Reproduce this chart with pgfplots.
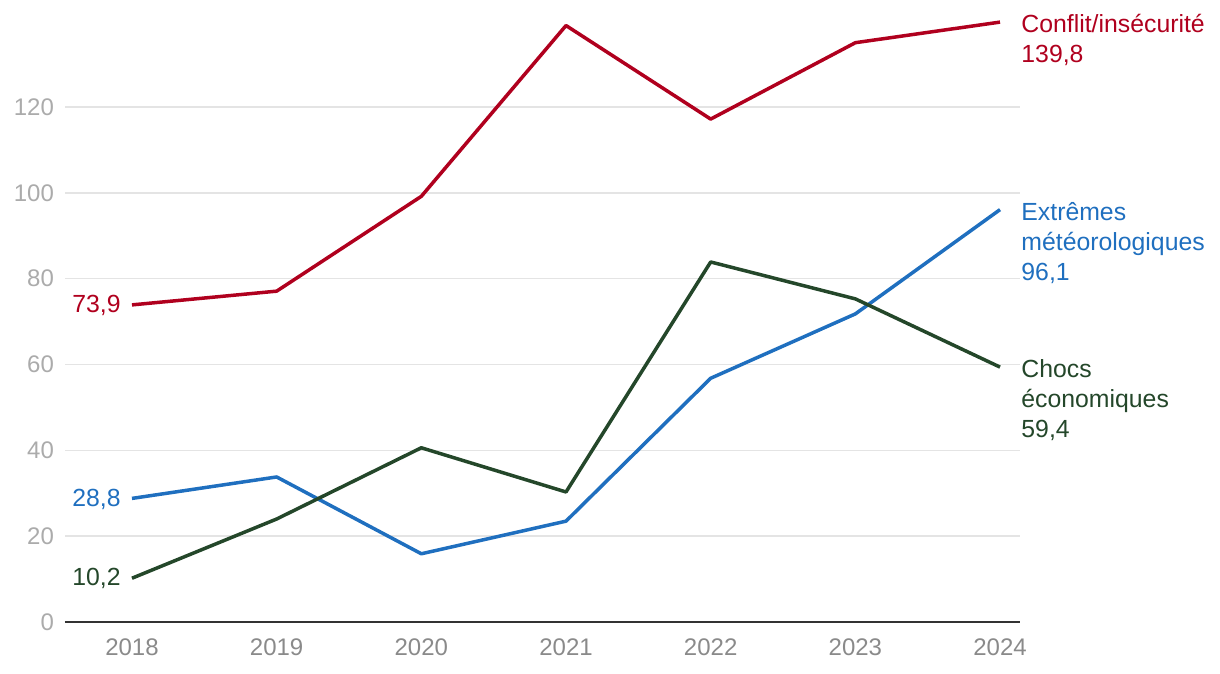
\documentclass[border=0pt]{standalone}
\usepackage{pgfplots}
\pgfplotsset{compat=1.18}
\usepackage{fontspec}
\setmainfont{Liberation Sans}
\definecolor{cred}{HTML}{B0001E}
\definecolor{cblue}{HTML}{1F6FBF}
\definecolor{cgreen}{HTML}{24472A}
\definecolor{gridc}{HTML}{E4E4E4}
\definecolor{ytc}{HTML}{ABABAB}
\definecolor{xtc}{HTML}{8A8A8A}
\begin{document}
\begin{tikzpicture}
\begin{axis}[
  scale only axis, width=477.5pt, height=311.1pt,
  xmin=2017.537, xmax=2024.138, ymin=0, ymax=145,
  axis x line=bottom, axis y line=left,
  x axis line style={-, draw=black!80, line width=1pt},
  y axis line style={draw=none},
  xtick={2018,2019,2020,2021,2022,2023,2024},
  xticklabels={2018,2019,2020,2021,2022,2023,2024},
  ytick={0,20,40,60,80,100,120},
  major tick length=0pt,
  ymajorgrids, grid style={gridc, line width=0.75pt},
  /pgf/number format/assume math mode=true,
  tick label style={font=\fontsize{12}{14}\selectfont},
  yticklabel style={color=ytc, anchor=east, xshift=-2pt},
  xticklabel style={color=xtc, anchor=north, yshift=-5pt},
  clip=false,
  every axis plot/.append style={line width=1.75pt, line join=round, no markers},
]
\addplot[cred] coordinates {(2018,73.9) (2019,77.1) (2020,99.2) (2021,139.0) (2022,117.2) (2023,135.0) (2024,139.8)};
\addplot[cblue] coordinates {(2018,28.8) (2019,33.8) (2020,15.9) (2021,23.5) (2022,56.8) (2023,71.8) (2024,96.1)};
\addplot[cgreen] coordinates {(2018,10.2) (2019,24.0) (2020,40.6) (2021,30.3) (2022,83.9) (2023,75.3) (2024,59.4)};

\begin{scope}[every node/.style={font=\fontsize{12.4}{14}\selectfont, inner sep=0pt}]
\node[anchor=base east, text=cred, xshift=-5.5pt, yshift=-3.8pt] at (axis cs:2018,73.9) {73,9};
\node[anchor=base east, text=cblue, xshift=-5.5pt, yshift=-3.8pt] at (axis cs:2018,28.8) {28,8};
\node[anchor=base east, text=cgreen, xshift=-5.5pt, yshift=-3.8pt] at (axis cs:2018,10.2) {10,2};

\node[anchor=base west, text=cred, xshift=10.5pt, yshift=-5.2pt] at (axis cs:2024,139.8) {Conflit/insécurité};
\node[anchor=base west, text=cred, xshift=10.5pt, yshift=-20.2pt] at (axis cs:2024,139.8) {139,8};

\node[anchor=base west, text=cblue, xshift=10.5pt, yshift=-5.2pt] at (axis cs:2024,96.1) {Extrêmes};
\node[anchor=base west, text=cblue, xshift=10.5pt, yshift=-20.2pt] at (axis cs:2024,96.1) {météorologiques};
\node[anchor=base west, text=cblue, xshift=10.5pt, yshift=-35.2pt] at (axis cs:2024,96.1) {96,1};

\node[anchor=base west, text=cgreen, xshift=10.5pt, yshift=-5.2pt] at (axis cs:2024,59.4) {Chocs};
\node[anchor=base west, text=cgreen, xshift=10.5pt, yshift=-20.2pt] at (axis cs:2024,59.4) {économiques};
\node[anchor=base west, text=cgreen, xshift=10.5pt, yshift=-35.2pt] at (axis cs:2024,59.4) {59,4};
\end{scope}
\end{axis}
\pgfresetboundingbox
\path (current axis.south west) ++(-32.5pt,-26pt) rectangle ++(610pt,337pt);
\end{tikzpicture}
\end{document}
